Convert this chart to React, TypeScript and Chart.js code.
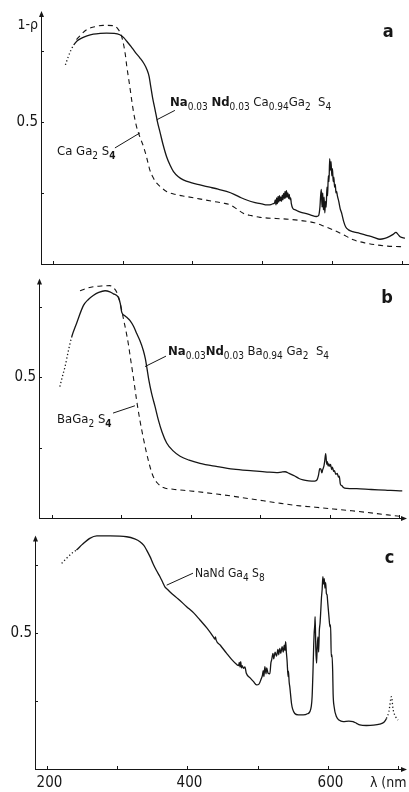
import React, { useEffect, useRef } from "react";
import { Chart, registerables } from "chart.js";

Chart.register(...registerables);

const FONT = '"DejaVu Sans Condensed", "DejaVu Sans", sans-serif';
const INK = "#161616";

// ---------- Panel a ----------
const aNdNm = [218, 222, 226, 230, 235, 242, 249, 258, 268, 277, 288, 296, 302, 306, 312, 318, 325, 331, 335, 338, 340, 343, 346.6, 350, 354, 358, 363, 368, 373, 380, 387, 398, 411, 425, 437, 449, 460, 470, 478, 490, 500, 507, 513, 516,
  518, 519, 520, 521, 522, 523, 524, 525, 526, 527, 528, 529, 530, 531, 532, 533, 534, 535, 536, 537, 538, 539, 540, 541, 542, 544, 548, 554, 562, 570, 578, 581,
  583, 584, 585, 586, 587, 588, 589, 590, 591, 592, 593, 594, 595, 596, 597, 598, 599, 600, 601, 602, 603, 604, 605, 606, 607, 608, 610, 612, 614, 617, 620, 624, 630, 640, 650, 660, 669, 676, 683, 688, 692, 695, 698, 705];
const aNdVal = [0.70, 0.728, 0.752, 0.77, 0.785, 0.795, 0.802, 0.808, 0.811, 0.812, 0.811, 0.806, 0.795, 0.783, 0.765, 0.745, 0.724, 0.703, 0.683, 0.66, 0.63, 0.585, 0.542, 0.5, 0.46, 0.42, 0.378, 0.348, 0.325, 0.307, 0.296, 0.286, 0.278, 0.27, 0.263, 0.255, 0.245, 0.233, 0.225, 0.216, 0.211, 0.208, 0.209, 0.212,
  0.215, 0.225, 0.208, 0.232, 0.212, 0.238, 0.218, 0.24, 0.222, 0.236, 0.22, 0.242, 0.226, 0.248, 0.23, 0.255, 0.232, 0.258, 0.235, 0.25, 0.23, 0.245, 0.226, 0.232, 0.212, 0.196, 0.19, 0.183, 0.178, 0.172, 0.167, 0.17,
  0.2, 0.24, 0.262, 0.2, 0.25, 0.19, 0.235, 0.18, 0.22, 0.2, 0.27, 0.24, 0.31, 0.29, 0.37, 0.33, 0.36, 0.31, 0.335, 0.29, 0.305, 0.27, 0.28, 0.25, 0.255, 0.24, 0.22, 0.195, 0.18, 0.15, 0.13, 0.12, 0.114, 0.108, 0.101, 0.094, 0.087, 0.09, 0.097, 0.104, 0.111, 0.104, 0.096, 0.091];

const aCaNm = [234, 241, 248.6, 260, 272, 287, 294, 298, 301, 304, 306, 310, 313, 316, 320, 325, 330, 335, 339, 344, 349, 356, 363, 375, 392, 410, 430, 445, 454, 463, 473, 485, 497, 520, 540, 555, 575, 590, 602, 615, 631, 648, 665, 680, 698, 705];
const aCaVal = [0.789, 0.808, 0.824, 0.834, 0.839, 0.838, 0.824, 0.805, 0.777, 0.735, 0.695, 0.63, 0.577, 0.53, 0.483, 0.445, 0.413, 0.37, 0.331, 0.303, 0.284, 0.268, 0.255, 0.245, 0.237, 0.229, 0.22, 0.214, 0.208, 0.195, 0.178, 0.17, 0.164, 0.16, 0.157, 0.153, 0.145, 0.132, 0.12, 0.105, 0.085, 0.074, 0.067, 0.063, 0.061, 0.06];

// ---------- Panel b ----------
const bNdNm = [212, 216, 219.4, 224, 229, 236, 246, 253, 260, 268, 277, 284, 289, 296, 299, 301, 305, 309, 313, 318, 322.6, 327, 332, 335, 337, 340, 344, 349, 353.6, 359, 365.7, 375, 385, 398, 413.6, 437, 461.6, 490, 510, 524, 531, 536, 542, 550, 556, 562, 570, 579,
  582, 584, 586, 587.6, 589, 590, 592, 593, 594.5, 596, 597, 598, 599, 600.5, 601.5, 603, 604, 605, 606, 607, 609, 611, 613, 614, 615.6, 618, 620, 625, 639, 660, 680, 701, 705];
const bNdVal = [0.466, 0.505, 0.536, 0.59, 0.642, 0.69, 0.754, 0.775, 0.789, 0.8, 0.806, 0.802, 0.795, 0.783, 0.76, 0.73, 0.718, 0.71, 0.70, 0.68, 0.654, 0.63, 0.595, 0.565, 0.536, 0.49, 0.442, 0.395, 0.349, 0.305, 0.266, 0.238, 0.219, 0.205, 0.194, 0.183, 0.173, 0.167, 0.163, 0.161, 0.163, 0.164, 0.158, 0.149, 0.14, 0.135, 0.132, 0.131,
  0.135, 0.15, 0.175, 0.173, 0.16, 0.17, 0.185, 0.2, 0.228, 0.19, 0.2, 0.184, 0.192, 0.183, 0.19, 0.172, 0.18, 0.174, 0.165, 0.168, 0.155, 0.158, 0.145, 0.148, 0.12, 0.114, 0.108, 0.105, 0.104, 0.101, 0.099, 0.096, 0.096];

const bBaNm = [241, 250, 260, 272, 284, 290, 294, 298, 303, 307, 310.5, 314, 317.7, 322, 327, 332, 336.7, 341, 346, 352, 361, 375, 400, 437.7, 470, 505, 530, 557.6, 580, 605.6, 630, 653, 680, 701, 705];
const bBaVal = [0.806, 0.814, 0.82, 0.823, 0.824, 0.815, 0.80, 0.77, 0.712, 0.665, 0.618, 0.56, 0.50, 0.425, 0.349, 0.285, 0.231, 0.188, 0.149, 0.125, 0.108, 0.102, 0.096, 0.085, 0.074, 0.061, 0.052, 0.043, 0.038, 0.032, 0.026, 0.02, 0.012, 0.006, 0.005];

// ---------- Panel c ----------
const cNm = [221, 228, 235, 242, 250, 261, 271, 290, 313.5, 325, 332.5, 338, 342, 347, 351, 356, 361, 365, 368, 372, 375, 387, 399, 409, 418, 428, 437, 439, 440, 441, 447, 456, 463, 470, 473, 474, 475, 476, 477, 478, 480, 482, 484, 489, 494, 498.6,
  502, 505, 507, 508, 509, 510.4, 512, 513, 515, 517.5, 519, 520, 522, 523, 525, 527, 529, 530, 531.7, 533, 535, 536.5, 538, 539, 540, 541, 542, 543.5, 544, 545, 546, 548.4, 550, 553, 558, 565, 571, 574.5, 576.5, 577.7,
  579, 580, 580.6, 581.5, 582, 583, 584, 585, 586, 587, 588, 589, 590, 591, 592, 593, 594, 595, 596, 597, 598, 599, 600, 601, 602, 603, 604, 605, 606, 607, 607.6, 609, 612.5, 616, 622, 630, 636, 641, 645.6, 655, 665, 674, 680, 683.6, 687, 690.7, 693, 697, 700];
const cVal = [0.756, 0.775, 0.792, 0.805, 0.825, 0.848, 0.857, 0.857, 0.854, 0.846, 0.836, 0.822, 0.805, 0.78, 0.756, 0.73, 0.707, 0.686, 0.67, 0.66, 0.652, 0.625, 0.597, 0.574, 0.548, 0.518, 0.486, 0.478, 0.486, 0.474, 0.455, 0.425, 0.403, 0.385, 0.38, 0.392, 0.375, 0.395, 0.372, 0.38, 0.37, 0.375, 0.352, 0.336, 0.322, 0.309,
  0.312, 0.33, 0.345, 0.362, 0.34, 0.376, 0.35, 0.372, 0.352, 0.35, 0.39, 0.4, 0.425, 0.405, 0.43, 0.415, 0.44, 0.42, 0.443, 0.425, 0.45, 0.43, 0.455, 0.435, 0.468, 0.43, 0.40, 0.34, 0.36, 0.32, 0.30, 0.24, 0.22, 0.204, 0.199, 0.199, 0.203, 0.211, 0.23, 0.266,
  0.364, 0.46, 0.499, 0.53, 0.56, 0.44, 0.389, 0.45, 0.486, 0.43, 0.51, 0.536, 0.58, 0.63, 0.66, 0.707, 0.68, 0.7, 0.665, 0.685, 0.646, 0.64, 0.61, 0.58, 0.55, 0.523, 0.53, 0.413, 0.42, 0.36, 0.278, 0.23, 0.192, 0.18, 0.174, 0.176, 0.174, 0.168, 0.162, 0.16, 0.161, 0.165, 0.172, 0.186, 0.21, 0.266, 0.22, 0.19, 0.18];

// ---------- Axis ticks ----------
const xTickValues = [200, 300, 400, 500, 600, 700];
const xTickLabels = ["200", "", "400", "", "600", ""];
const yTickValues = [0.25, 0.5, 0.75];
const yTickLabels = ["", "0.5", ""];

type Run = { t: string; sub?: boolean; bold?: boolean };
type Note = { runs: Run[]; x: number; y: number; size: number; lead?: number[] };
type Series = { nm: number[]; val: number[]; dashed?: boolean; dotBefore?: number; dotAfter?: number };
type PanelCfg = {
  top: number; height: number;
  pad: { left: number; right: number; top: number; bottom: number };
  xMin: number; xMax: number; yMax: number;
  series: Series[]; notes: Note[];
  letter: string; letterPos: number[];
  arrowX: boolean; xLabels: boolean; yTitle?: string;
};

const formulaA: Run[] = [
  { t: "Na", bold: true }, { t: "0.03", sub: true }, { t: " " },
  { t: "Nd", bold: true }, { t: "0.03", sub: true }, { t: " " },
  { t: "Ca" }, { t: "0.94", sub: true }, { t: "Ga" }, { t: "2", sub: true }, { t: "  S" }, { t: "4", sub: true },
];
const formulaCa: Run[] = [{ t: "Ca Ga" }, { t: "2", sub: true }, { t: " S" }, { t: "4", sub: true, bold: true }];
const formulaB: Run[] = [
  { t: "Na", bold: true }, { t: "0.03", sub: true },
  { t: "Nd", bold: true }, { t: "0.03", sub: true }, { t: " " },
  { t: "Ba" }, { t: "0.94", sub: true }, { t: " Ga" }, { t: "2", sub: true }, { t: "  S" }, { t: "4", sub: true },
];
const formulaBa: Run[] = [{ t: "BaGa" }, { t: "2", sub: true }, { t: " S" }, { t: "4", sub: true, bold: true }];
const formulaC: Run[] = [{ t: "NaNd Ga" }, { t: "4", sub: true }, { t: " S" }, { t: "8", sub: true }];

const panels: PanelCfg[] = [
  {
    top: 0, height: 268, pad: { left: 41, right: 4, top: 8, bottom: 4 },
    xMin: 183, xMax: 705, yMax: 0.9,
    series: [
      { nm: aNdNm, val: aNdVal, dotBefore: 231 },
      { nm: aCaNm, val: aCaVal, dashed: true },
    ],
    notes: [
      { runs: formulaA, x: 368, y: 0.556, size: 13, lead: [349, 0.507, 375, 0.54] },
      { runs: formulaCa, x: 206, y: 0.384, size: 13, lead: [289, 0.408, 325, 0.461] },
    ],
    letter: "a", letterPos: [681, 0.813], arrowX: false, xLabels: false, yTitle: "1-\u03C1",
  },
  {
    top: 268, height: 258, pad: { left: 39, right: 6.5, top: 7.5, bottom: 8 },
    xMin: 182, xMax: 705, yMax: 0.86,
    series: [
      { nm: bNdNm, val: bNdVal, dotBefore: 230 },
      { nm: bBaNm, val: bBaVal, dashed: true },
    ],
    notes: [
      { runs: formulaB, x: 367.6, y: 0.578, size: 13, lead: [334.5, 0.537, 364.7, 0.574] },
      { runs: formulaBa, x: 208, y: 0.337, size: 13, lead: [288.5, 0.372, 320, 0.398] },
    ],
    letter: "b", letterPos: [682.7, 0.78], arrowX: true, xLabels: false,
  },
  {
    top: 526, height: 266, pad: { left: 35, right: 4, top: 6.4, bottom: 23 },
    xMin: 183, xMax: 710, yMax: 0.87,
    series: [{ nm: cNm, val: cVal, dotBefore: 243, dotAfter: 683 }],
    notes: [{ runs: formulaC, x: 410.8, y: 0.706, size: 12, lead: [370.5, 0.676, 408, 0.72] }],
    letter: "c", letterPos: [688, 0.776], arrowX: true, xLabels: true,
  },
];

function drawRuns(ctx: CanvasRenderingContext2D, runs: Run[], x: number, y: number, size: number) {
  let cx = x;
  for (const r of runs) {
    const s = r.sub ? Math.round(size * 0.8) : size;
    ctx.font = `${r.bold ? "bold " : ""}${s}px ${FONT}`;
    const dy = r.sub ? size * 0.32 : 0;
    ctx.fillText(r.t, cx, y + dy);
    cx += ctx.measureText(r.t).width;
  }
}

function makePlugin(cfg: PanelCfg) {
  return {
    id: "paperAxes",
    afterDraw(chart: any) {
      const ctx: CanvasRenderingContext2D = chart.ctx;
      const a = chart.chartArea;
      const xs = chart.scales.x;
      const ys = chart.scales.y;
      ctx.save();
      ctx.strokeStyle = INK;
      ctx.fillStyle = INK;
      ctx.lineWidth = 1;
      // y axis
      const yTip = a.top + 3;
      ctx.beginPath();
      ctx.moveTo(a.left + 0.5, a.bottom);
      ctx.lineTo(a.left + 0.5, yTip + 4);
      ctx.stroke();
      ctx.beginPath();
      ctx.moveTo(a.left + 0.5, yTip);
      ctx.lineTo(a.left - 2, yTip + 6);
      ctx.lineTo(a.left + 3, yTip + 6);
      ctx.closePath();
      ctx.fill();
      // x axis
      const xEnd = 407;
      ctx.beginPath();
      ctx.moveTo(a.left, a.bottom + 0.5);
      ctx.lineTo(cfg.arrowX ? xEnd - 4 : 409, a.bottom + 0.5);
      ctx.stroke();
      if (cfg.arrowX) {
        ctx.beginPath();
        ctx.moveTo(xEnd, a.bottom + 0.5);
        ctx.lineTo(xEnd - 6, a.bottom - 2);
        ctx.lineTo(xEnd - 6, a.bottom + 3);
        ctx.closePath();
        ctx.fill();
      }
      // x ticks
      xTickValues.forEach((v, i) => {
        const px = Math.round(xs.getPixelForValue(v)) + 0.5;
        if (px > 406) return;
        ctx.beginPath();
        ctx.moveTo(px, a.bottom);
        ctx.lineTo(px, a.bottom - 3);
        ctx.stroke();
        if (cfg.xLabels && xTickLabels[i]) {
          ctx.font = `15px ${FONT}`;
          ctx.textAlign = "center";
          ctx.textBaseline = "alphabetic";
          ctx.fillText(xTickLabels[i], px + 2, a.bottom + 18);
        }
      });
      if (cfg.xLabels) {
        ctx.font = `14px ${FONT}`;
        ctx.textAlign = "left";
        ctx.fillText("\u03BB (nm", xs.getPixelForValue(660), a.bottom + 18);
      }
      // y ticks
      yTickValues.forEach((v, i) => {
        const py = Math.round(ys.getPixelForValue(v)) + 0.5;
        ctx.beginPath();
        ctx.moveTo(a.left, py);
        ctx.lineTo(a.left + 3, py);
        ctx.stroke();
        if (yTickLabels[i]) {
          ctx.font = `15px ${FONT}`;
          ctx.textAlign = "right";
          ctx.textBaseline = "middle";
          ctx.fillText(yTickLabels[i], a.left - 3, py);
        }
      });
      if (cfg.yTitle) {
        ctx.font = `14px ${FONT}`;
        ctx.textAlign = "right";
        ctx.textBaseline = "alphabetic";
        ctx.fillText(cfg.yTitle, a.left - 3, ys.getPixelForValue(0.827));
      }
      // notes
      ctx.textAlign = "left";
      ctx.textBaseline = "alphabetic";
      for (const n of cfg.notes) {
        drawRuns(ctx, n.runs, xs.getPixelForValue(n.x), ys.getPixelForValue(n.y), n.size);
        if (n.lead) {
          ctx.beginPath();
          ctx.moveTo(xs.getPixelForValue(n.lead[0]), ys.getPixelForValue(n.lead[1]));
          ctx.lineTo(xs.getPixelForValue(n.lead[2]), ys.getPixelForValue(n.lead[3]));
          ctx.stroke();
        }
      }
      // panel letter
      ctx.font = `bold 18px ${FONT}`;
      ctx.textAlign = "center";
      ctx.textBaseline = "middle";
      ctx.fillText(cfg.letter, xs.getPixelForValue(cfg.letterPos[0]), ys.getPixelForValue(cfg.letterPos[1]));
      ctx.restore();
    },
  };
}

function Panel({ cfg }: { cfg: PanelCfg }) {
  const ref = useRef<HTMLCanvasElement>(null);
  useEffect(() => {
    const chart = new Chart(ref.current as HTMLCanvasElement, {
      type: "line",
      data: {
        datasets: cfg.series.map((s) => ({
          data: s.nm.map((x, i) => ({ x, y: s.val[i] })),
          borderColor: INK,
          borderWidth: s.dashed ? 1.1 : 1.3,
          borderDash: s.dashed ? [5, 4] : [],
          pointRadius: 0,
          fill: false,
          cubicInterpolationMode: "monotone",
          segment: {
            borderDash: (c: any) =>
              (s.dotBefore !== undefined && c.p1.parsed.x <= s.dotBefore) ||
              (s.dotAfter !== undefined && c.p0.parsed.x >= s.dotAfter)
                ? [1.2, 2.4]
                : undefined,
          },
        })),
      } as any,
      options: {
        responsive: false,
        animation: false,
        events: [],
        layout: { padding: cfg.pad },
        plugins: { legend: { display: false }, tooltip: { enabled: false } },
        scales: {
          x: { type: "linear", min: cfg.xMin, max: cfg.xMax, display: false },
          y: { type: "linear", min: 0, max: cfg.yMax, display: false },
        },
      } as any,
      plugins: [makePlugin(cfg)],
    });
    return () => chart.destroy();
  }, [cfg]);
  return (
    <canvas
      ref={ref}
      width={409}
      height={cfg.height}
      style={{ position: "absolute", left: 0, top: cfg.top, width: 409, height: cfg.height }}
    />
  );
}

export default function App() {
  return (
    <div style={{ position: "absolute", left: 0, top: 0, width: 409, height: 792, background: "#fff", overflow: "hidden" }}>
      {panels.map((p, i) => (
        <Panel key={i} cfg={p} />
      ))}
    </div>
  );
}
